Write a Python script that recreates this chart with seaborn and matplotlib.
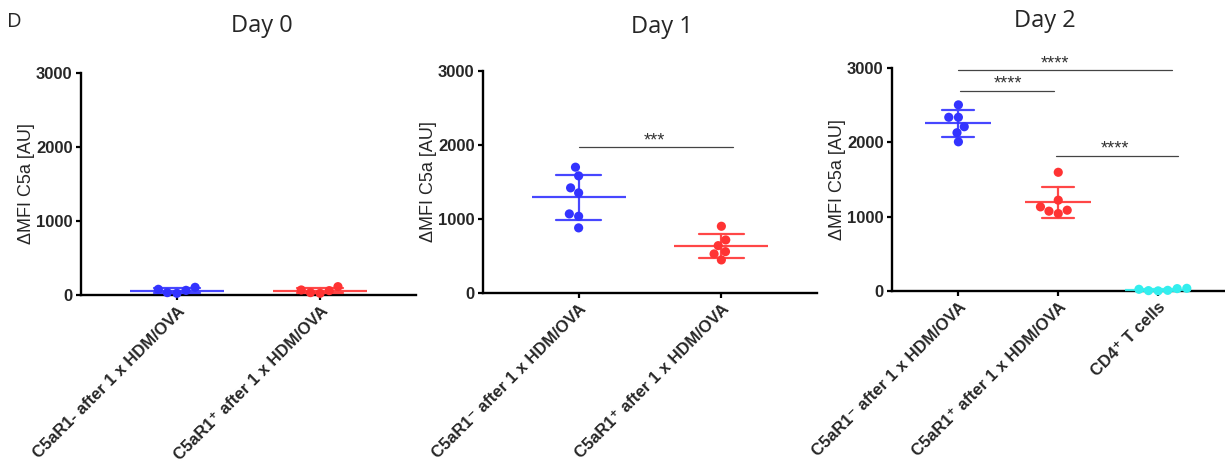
import numpy as np
import pandas as pd
import matplotlib
matplotlib.use("Agg")
import matplotlib.pyplot as plt
import seaborn as sns

# ---------------- data ----------------
day0_neg = [104, 63, 23, 32, 77]
day0_pos = [113, 59, 23, 32, 68]
day1_neg = [1700, 1583, 1421, 1353, 1069, 1037, 880]
day1_pos = [902, 717, 640, 559, 528, 447]
day2_neg = [2504, 2337, 2337, 2210, 2129, 2007]
day2_pos = [1597, 1222, 1087, 1042, 1074, 1132]
day2_cd4 = [32, 9, 2, 5, 23, 36]

titles = ["Day 0", "Day 1", "Day 2"]
labels_day0 = ["C5aR1- after 1 x HDM/OVA", "C5aR1\u207a after 1 x HDM/OVA"]
labels_day1 = ["C5aR1\u207b after 1 x HDM/OVA", "C5aR1\u207a after 1 x HDM/OVA"]
labels_day2 = ["C5aR1\u207b after 1 x HDM/OVA", "C5aR1\u207a after 1 x HDM/OVA", "CD4\u207a T cells"]

# significance annotations: (x start, x end, y level, text x, label)
sig_day1 = [(0.0, 1.08, 1970, 0.53, "***")]
sig_day2 = [(0.0, 2.14, 2967, 0.97, "****"),
            (0.02, 0.96, 2697, 0.50, "****"),
            (0.98, 2.20, 1822, 1.57, "****")]

colors = ["#3333FF", "#FF3333", "#33EEEE"]

# ---------------- style ----------------
sns.set_style("ticks")
plt.rcParams["font.family"] = ["Liberation Sans", "DejaVu Sans"]

W, H, DPI = 1225, 467, 100
fig = plt.figure(figsize=(W / DPI, H / DPI), dpi=DPI)

rects = [
    (81 / W, (H - 295) / H, 335 / W, 222 / H),
    (483 / W, (H - 293) / H, 334 / W, 222 / H),
    (892 / W, (H - 291) / H, 333 / W, 223 / H),
]
panels = [
    ([day0_neg, day0_pos], labels_day0, [], (-0.67, 1.67)),
    ([day1_neg, day1_pos], labels_day1, sig_day1, (-0.67, 1.67)),
    ([day2_neg, day2_pos, day2_cd4], labels_day2, sig_day2, (-0.665, 2.67)),
]

for rect, (groups, xlabels, sigs, xlim) in zip(rects, panels):
    ax = fig.add_axes(rect)
    names = [f"g{i}" for i in range(len(groups))]
    df = pd.DataFrame({
        "group": np.concatenate([[n] * len(g) for n, g in zip(names, groups)]),
        "value": np.concatenate([np.asarray(g, float) for g in groups]),
    })
    pal = dict(zip(names, colors[:len(groups)]))

    px_per_cat = rect[2] * W / (xlim[1] - xlim[0])
    mean_ms = 0.66 * px_per_cat * 72 / DPI

    sns.swarmplot(data=df, x="group", y="value", hue="group", order=names,
                  palette=pal, size=6.6, linewidth=0, legend=False, ax=ax,
                  zorder=3)
    sns.pointplot(data=df, x="group", y="value", hue="group", order=names,
                  palette=pal, errorbar="sd", capsize=0.32, linestyle="none",
                  marker="_", markersize=mean_ms, markeredgewidth=1.6,
                  err_kws={"linewidth": 1.6}, legend=False, ax=ax, zorder=4)
    for coll in ax.collections:
        coll.set_clip_on(False)
    for ln in ax.lines:
        ln.set_clip_on(False)
        ln.set_alpha(0.9)

    ax.set_xlim(*xlim)
    ax.set_ylim(0, 3000)
    ax.set_yticks([0, 1000, 2000, 3000])
    ax.set_xticks(range(len(groups)))
    ax.set_xticklabels(xlabels, rotation=45, ha="right", va="top",
                       rotation_mode="anchor", fontsize=12, fontweight="bold")
    for t in ax.get_yticklabels():
        t.set_fontweight("bold")
        t.set_fontsize(12)
    ax.set_xlabel("")
    ax.set_ylabel("\u0394MFI C5a [AU]", fontsize=13)
    ax.yaxis.set_label_coords(-0.138, 0.5)

    sns.despine(ax=ax)
    for side in ("left", "bottom"):
        ax.spines[side].set_linewidth(1.7)
        ax.spines[side].set_color("black")
    ax.tick_params(axis="both", direction="out", length=3.6, width=1.6,
                   color="black", pad=2.5)

    for x0, x1, y, tx, lab in sigs:
        ax.plot([x0, x1], [y, y], color="#444444", lw=0.9, clip_on=False)
        ax.annotate(lab, (tx, y), xytext=(0, 1.5), textcoords="offset points",
                    ha="center", va="baseline", fontsize=13, color="#333333",
                    annotation_clip=False)

title_pos = [(261.5, 32), (662, 33), (1045, 27)]
for (x, y), t in zip(title_pos, titles):
    fig.text(x / W, 1 - y / H, t, ha="center", va="baseline",
             fontsize=17, family="Open Sans")
fig.text(7 / W, 1 - 27 / H, "D", ha="left", va="baseline",
         fontsize=14.5, family="Open Sans")

fig.savefig("out.png", dpi=DPI)
